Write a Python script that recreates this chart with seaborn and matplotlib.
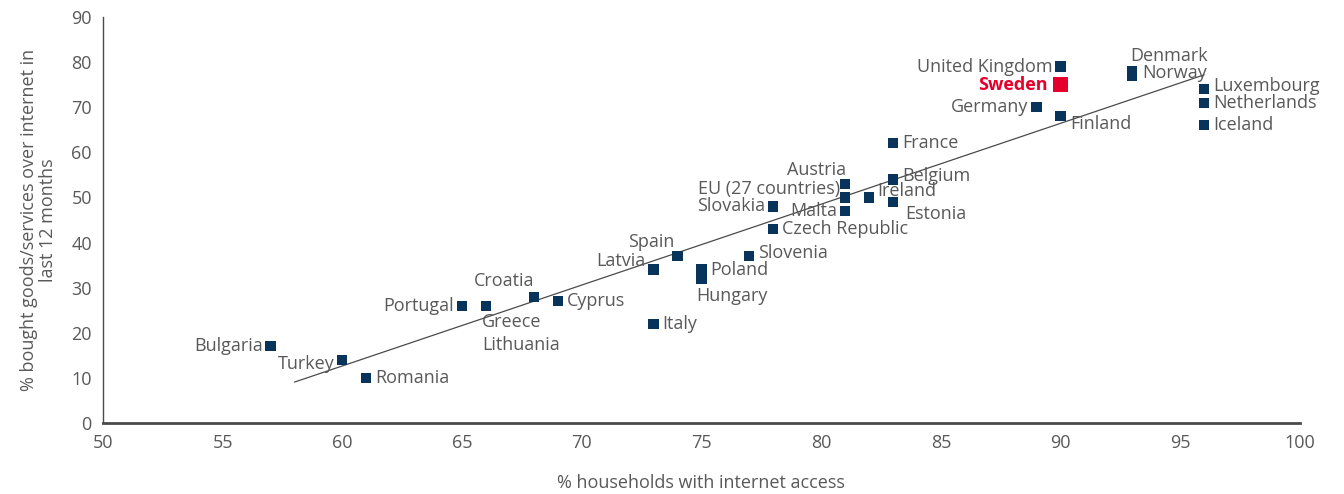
import numpy as np
import pandas as pd
import seaborn as sns
import matplotlib.pyplot as plt

# Data
countries = ["Bulgaria", "Turkey", "Romania", "Portugal", "Greece", "Lithuania",
             "Croatia", "Cyprus", "Italy", "Latvia", "Spain", "Poland", "Hungary",
             "Slovenia", "Slovakia", "Czech Republic", "Austria", "EU (27 countries)",
             "Malta", "Ireland", "Belgium", "Estonia", "France", "Germany", "Finland",
             "United Kingdom", "Sweden", "Denmark", "Norway", "Luxembourg",
             "Netherlands", "Iceland"]
internet_access = [57, 60, 61, 65, 66, 66, 68, 69, 73, 73, 74, 75, 75, 77, 78, 78,
                   81, 81, 81, 82, 83, 83, 83, 89, 90, 90, 90, 93, 93, 96, 96, 96]
bought_online = [17, 14, 10, 26, 26, 26, 28, 27, 22, 34, 37, 34, 32, 37, 48, 43,
                 53, 50, 47, 50, 54, 49, 62, 70, 68, 79, 75, 78, 77, 74, 71, 66]

df = pd.DataFrame({"country": countries, "x": internet_access, "y": bought_online})
highlight = "Sweden"

# label placement: (dx px, dy px, ha, va)
R = (9, 0, "left", "center")
L = (-8, 0, "right", "center")
label_pos = {
    "Bulgaria": L, "Turkey": (-8, -4, "right", "center"), "Romania": R,
    "Portugal": L, "Greece": (-4, -16, "left", "center"),
    "Lithuania": (-4, -39, "left", "center"), "Croatia": (-30, 16, "center", "center"),
    "Cyprus": R, "Italy": R, "Latvia": (-8, 9, "right", "center"),
    "Spain": (-26, 14, "center", "center"), "Poland": R,
    "Hungary": (-5, -17, "left", "center"), "Slovenia": (9, 3, "left", "center"),
    "Slovakia": L, "Czech Republic": R, "Austria": (-29, 14, "center", "center"),
    "EU (27 countries)": (-5, 8, "right", "center"), "Malta": L,
    "Ireland": (8, 6, "left", "center"), "Belgium": (9, 3, "left", "center"),
    "Estonia": (12, -12, "left", "center"), "France": R, "Germany": L,
    "Finland": (10, -8, "left", "center"), "United Kingdom": L,
    "Sweden": (-13, 0, "right", "center"), "Denmark": (37, 15, "center", "center"),
    "Norway": (10, 3, "left", "center"), "Luxembourg": (9, 3, "left", "center"),
    "Netherlands": (9, 0, "left", "center"), "Iceland": R,
}

sns.set_style("white")
plt.rcParams["font.family"] = ["Open Sans", "DejaVu Sans"]

navy = "#08335a"
red = "#e4002b"
grey = "#595959"

fig = plt.figure(figsize=(13.44, 4.94), dpi=100)
ax = fig.add_axes([0.0766, 0.1437, 0.8906, 0.8219])

rest = df[df["country"] != highlight]
sns.scatterplot(data=rest, x="x", y="y", marker="s", s=55, color=navy,
                edgecolor="none", ax=ax, zorder=3)
sns.scatterplot(data=df[df["country"] == highlight], x="x", y="y", marker="s",
                s=110, color=red, edgecolor="none", ax=ax, zorder=3)

# linear trend line
slope, intercept = np.polyfit(df["x"], df["y"], 1)
xs = np.array([58, 96])
ax.plot(xs, slope * xs + intercept, color="#4a4a4a", lw=0.9, zorder=2)

for _, row in df.iterrows():
    dx, dy, ha, va = label_pos[row["country"]]
    is_hl = row["country"] == highlight
    ax.annotate(row["country"], (row["x"], row["y"]),
                xytext=(dx * 0.72, dy * 0.72), textcoords="offset points",
                ha=ha, va=va, fontsize=13,
                color=red if is_hl else grey,
                fontweight="bold" if is_hl else "normal")

ax.set_xlim(50, 100)
ax.set_ylim(0, 90)
ax.set_xticks(range(50, 101, 5))
ax.set_yticks(range(0, 91, 10))
ax.tick_params(axis="both", length=0, labelsize=13, labelcolor=grey, pad=8)
ax.set_xlabel("% households with internet access", fontsize=13, color=grey, labelpad=16)
ax.set_ylabel("% bought goods/services over internet in\nlast 12 months",
              fontsize=13, color=grey, labelpad=10, linespacing=1.1)

sns.despine(ax=ax)
ax.spines["left"].set_color("#4a4a4a")
ax.spines["left"].set_linewidth(1)
ax.spines["bottom"].set_color("#4a4a4a")
ax.spines["bottom"].set_linewidth(2)

fig.savefig("out.png", dpi=100)
